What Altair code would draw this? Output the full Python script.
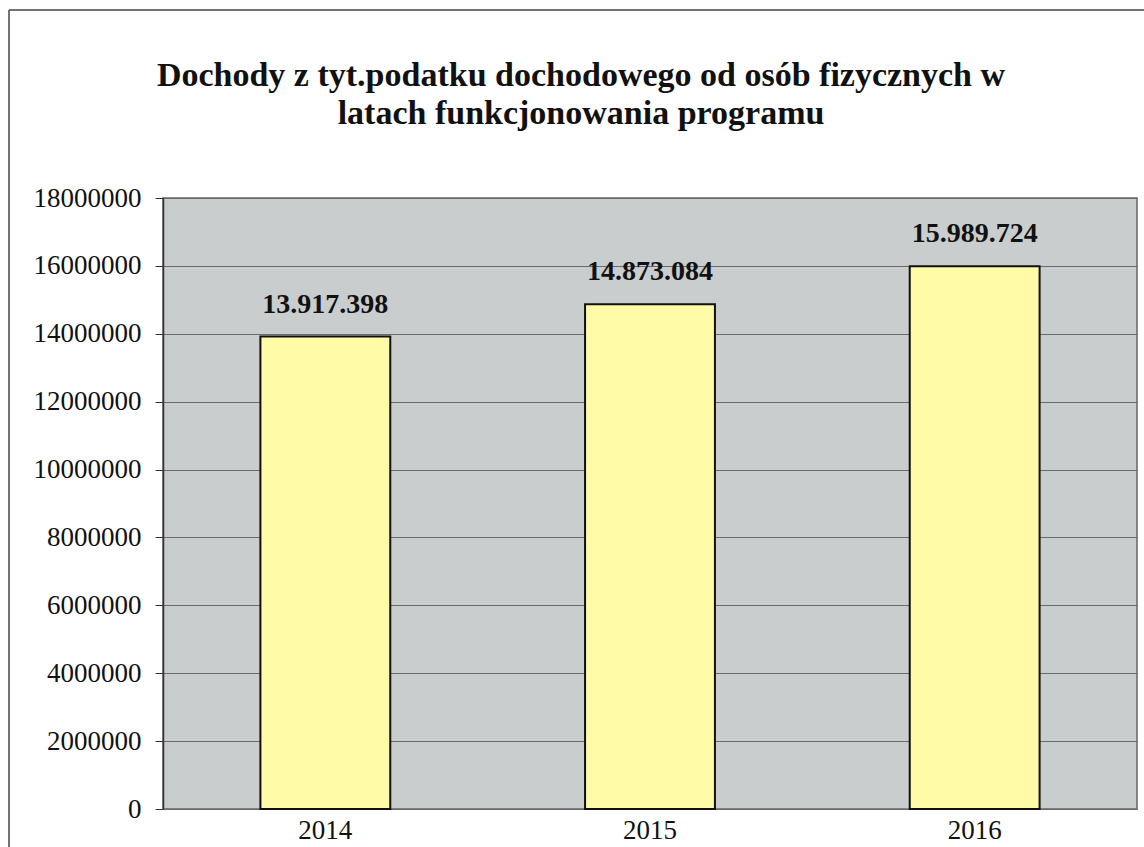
import altair as alt
import pandas as pd

years = ["2014", "2015", "2016"]
values = [13917398, 14873084, 15989724]
labels = [f"{v:,}".replace(",", ".") for v in values]

df = pd.DataFrame({"year": years, "value": values, "label": labels})

FONT = "Liberation Serif"

base = alt.Chart(df)

bars = base.mark_bar(color="#FFFBA6", stroke="#111111", strokeWidth=2).encode(
    x=alt.X("year:N", sort=years,
            scale=alt.Scale(paddingInner=0.6, paddingOuter=0.3),
            axis=alt.Axis(title=None, labelAngle=0, ticks=False, domain=False,
                          grid=False,
                          labelFont=FONT, labelFontSize=27, labelColor="#111111",
                          labelPadding=8)),
    y=alt.Y("value:Q",
            scale=alt.Scale(domain=[0, 18000000], nice=False),
            axis=alt.Axis(title=None, values=list(range(0, 18000001, 2000000)),
                          format="d", labelFont=FONT, labelFontSize=27,
                          labelColor="#111111", labelPadding=14,
                          tickSize=8, tickColor="#333333", domainColor="#333333",
                          domainWidth=1.5, grid=True, gridColor="#6A6A6A",
                          gridWidth=1, labelBound=False)),
)

text = base.mark_text(font=FONT, fontSize=28, fontWeight="bold", color="#111111",
                      baseline="bottom", dy=-18).encode(
    x=alt.X("year:N", sort=years),
    y="value:Q",
    text="label:N",
)

frame_data = alt.Data(values=[{"k": 1}])
frame_left = alt.Chart(frame_data).mark_rule(color="#444444", strokeWidth=1.5).encode(
    x=alt.value(-154), y=alt.value(-188), y2=alt.value(700))
frame_top = alt.Chart(frame_data).mark_rule(color="#444444", strokeWidth=1.5).encode(
    x=alt.value(-154), x2=alt.value(1000), y=alt.value(-188))

chart = alt.layer(frame_left, frame_top, bars, text).properties(
    width=974, height=611,
    autosize=alt.AutoSizeParams(type="none"),
    padding={"left": 163, "top": 198, "right": 7, "bottom": 38},
    background="white",
    title=alt.TitleParams(
        text=["Dochody z tyt.podatku dochodowego od osób fizycznych w",
              "latach funkcjonowania programu"],
        font=FONT, fontSize=34, fontWeight="bold", color="#111111",
        anchor="middle", dx=-69, offset=-122, lineHeight=38,
    ),
).configure_view(
    fill="#C9CDCD", stroke="#666666", strokeWidth=1.5
).configure_title(font=FONT, fontWeight="bold")

chart.save("out.html", embed_options={"renderer": "svg", "actions": False})
